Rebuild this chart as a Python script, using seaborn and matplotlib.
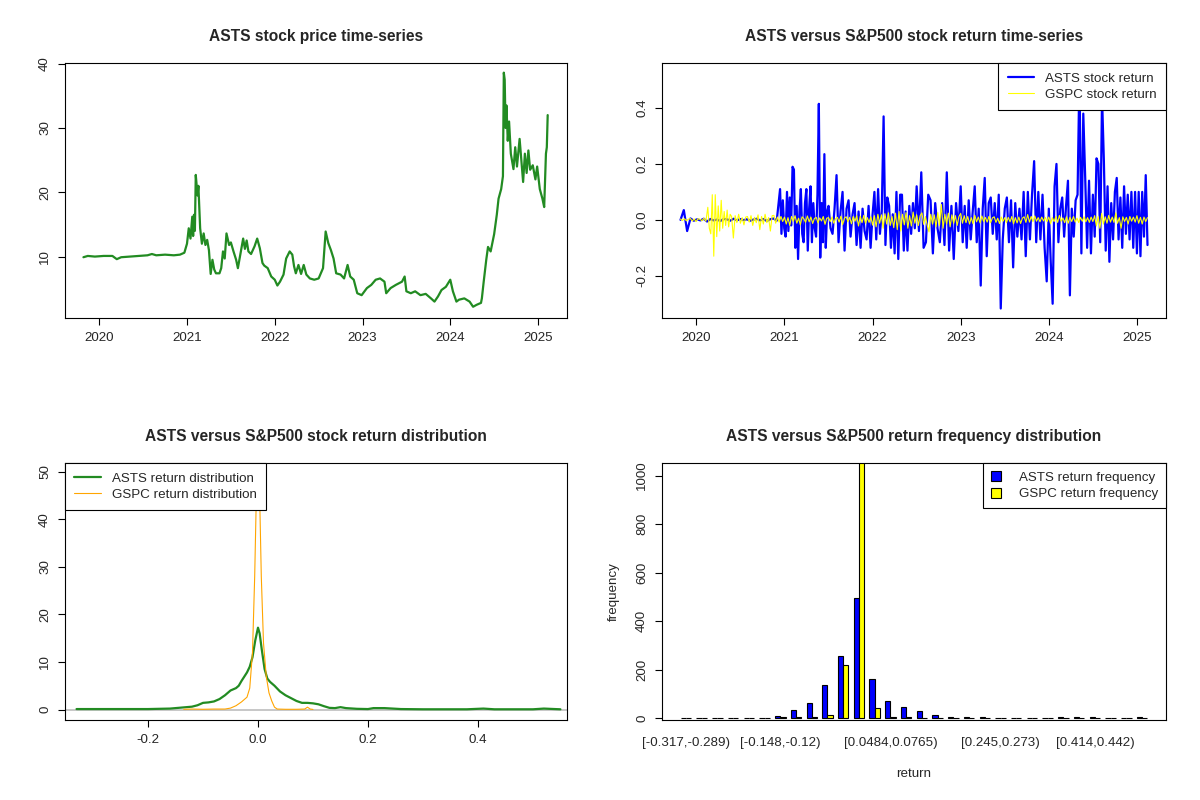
import numpy as np
import pandas as pd
import matplotlib
matplotlib.use("Agg")
import matplotlib.pyplot as plt
import seaborn as sns

# ASTS closing price (decimal years)
price_years = [2019.82, 2019.87, 2019.95, 2020.05, 2020.15, 2020.2, 2020.25, 2020.35, 2020.45, 2020.55,
               2020.6, 2020.65, 2020.75, 2020.85, 2020.92, 2020.97, 2021.0, 2021.02, 2021.04, 2021.06,
               2021.07, 2021.08, 2021.09, 2021.1, 2021.12, 2021.13, 2021.15, 2021.17, 2021.19, 2021.21,
               2021.23, 2021.25, 2021.27, 2021.29, 2021.31, 2021.33, 2021.37, 2021.39, 2021.41, 2021.43,
               2021.45, 2021.48, 2021.5, 2021.53, 2021.56, 2021.58, 2021.61, 2021.64, 2021.66, 2021.68,
               2021.7, 2021.73, 2021.77, 2021.8, 2021.83, 2021.86, 2021.88, 2021.92, 2021.96, 2022.0,
               2022.03, 2022.06, 2022.1, 2022.13, 2022.17, 2022.2, 2022.22, 2022.24, 2022.27, 2022.3,
               2022.33, 2022.36, 2022.4, 2022.45, 2022.5, 2022.55, 2022.58, 2022.61, 2022.64, 2022.67,
               2022.7, 2022.75, 2022.79, 2022.83, 2022.86, 2022.9, 2022.94, 2022.99, 2023.05, 2023.1,
               2023.15, 2023.2, 2023.25, 2023.27, 2023.32, 2023.38, 2023.45, 2023.48, 2023.5, 2023.55,
               2023.6, 2023.66, 2023.72, 2023.78, 2023.82, 2023.86, 2023.9, 2023.95, 2024.0, 2024.03,
               2024.07, 2024.1, 2024.16, 2024.22, 2024.26, 2024.3, 2024.35, 2024.36, 2024.38, 2024.41,
               2024.43, 2024.46, 2024.5, 2024.53, 2024.55, 2024.58, 2024.6, 2024.61, 2024.62, 2024.63,
               2024.64, 2024.655, 2024.67, 2024.69, 2024.72, 2024.74, 2024.76, 2024.79, 2024.81, 2024.83,
               2024.85, 2024.87, 2024.89, 2024.91, 2024.94, 2024.97, 2024.99, 2025.02, 2025.05, 2025.07,
               2025.08, 2025.09, 2025.1, 2025.11]
price_values = [9.9, 10.1, 10.0, 10.1, 10.1, 9.6, 9.9, 10.0, 10.1, 10.2,
                10.4, 10.2, 10.3, 10.2, 10.3, 10.6, 12.0, 14.4, 12.8, 16.2,
                13.2, 16.5, 14.0, 22.7, 19.5, 21.0, 14.4, 12.0, 13.6, 11.8,
                12.6, 11.0, 7.3, 9.5, 8.0, 7.4, 7.4, 8.2, 10.8, 9.7,
                13.6, 11.8, 12.2, 10.8, 9.5, 8.2, 10.5, 12.8, 11.2, 12.5,
                10.8, 10.4, 11.6, 12.8, 11.3, 9.0, 8.6, 8.2, 6.9, 6.4,
                5.5, 6.1, 7.2, 9.7, 10.8, 10.3, 8.5, 7.4, 8.7, 7.3,
                8.7, 7.2, 6.6, 6.4, 6.6, 8.2, 13.9, 12.1, 11.0, 9.7,
                7.4, 7.2, 6.6, 8.7, 6.9, 6.4, 4.3, 4.0, 5.1, 5.6,
                6.4, 6.6, 6.1, 4.3, 5.1, 5.6, 6.1, 6.9, 4.6, 4.3,
                4.6, 4.0, 4.2, 3.5, 3.0, 3.8, 4.8, 5.3, 6.4, 4.6,
                3.0, 3.3, 3.5, 3.0, 2.2, 2.5, 2.8, 3.5, 6.0, 9.5,
                11.5, 10.8, 13.5, 16.5, 19.0, 20.5, 22.5, 38.6, 37.5, 30.0,
                33.5, 28.0, 31.0, 26.0, 23.6, 27.0, 24.0, 28.3, 25.0, 21.6,
                26.0, 23.0, 26.5, 23.5, 24.2, 22.0, 24.0, 20.5, 19.0, 17.7,
                22.0, 26.0, 27.0, 32.0]

# ASTS daily returns, by period
asts_ret_edges = [2019.82, 2020.95, 2021.5, 2022.0, 2022.5, 2023.0, 2023.5, 2024.0, 2024.5, 2025.0, 2025.12]
asts_ret_2020 = [0.0, 0.035, -0.04, 0.005, -0.003, 0.002, -0.002, 0.004, -0.006, 0.003,
                 -0.002, 0.001, -0.004, 0.003, 0.002, -0.003, 0.004, -0.002, 0.003, -0.001,
                 0.002, -0.003, 0.001, 0.004, -0.002, 0.003, -0.004, 0.002, 0.005, -0.003]
asts_ret_2021a = [0.11, -0.05, 0.07, -0.03, -0.06, 0.1, -0.04, 0.08, -0.02, 0.19, 0.18, -0.1,
                  0.05, -0.14, 0.03, 0.11, -0.05, -0.08, 0.06, 0.11, -0.11, 0.04, 0.12, -0.08,
                  0.06, -0.03, -0.06, 0.09, 0.415, -0.135, 0.06, -0.08, 0.235, -0.1, 0.03]
asts_ret_2021b = [0.05, -0.03, -0.05, 0.04, 0.16, -0.08, 0.03, 0.1, -0.11, 0.04, 0.07,
                  -0.06, 0.02, 0.06, -0.09, 0.03, -0.1, 0.04, -0.04, -0.07, 0.05, -0.1]
asts_ret_2022a = [0.02, 0.1, -0.07, 0.11, -0.05, 0.03, 0.37, -0.09, 0.08, 0.05, -0.1, 0.02,
                  -0.12, 0.1, -0.14, 0.09, 0.09, -0.11, 0.03, -0.11, 0.05, -0.05, 0.06, -0.03]
asts_ret_2022b = [0.12, -0.04, 0.17, -0.1, -0.08, 0.09, 0.07, -0.12, 0.06, -0.03,
                  -0.08, 0.06, -0.09, 0.17, -0.11, 0.05, -0.14, 0.06, -0.04]
asts_ret_2023a = [0.12, -0.08, 0.05, -0.1, 0.07, -0.07, 0.03, 0.12, -0.08, 0.04, -0.235,
                  0.04, 0.15, -0.13, 0.06, 0.08, -0.05, 0.06, -0.07, 0.09, -0.317, -0.07]
asts_ret_2023b = [0.04, 0.08, -0.08, 0.07, -0.17, 0.06, -0.06, 0.04, -0.07, 0.1, -0.13,
                  0.1, -0.07, 0.09, 0.21, -0.08, 0.1, -0.07, 0.09, -0.1, -0.22]
asts_ret_2024a = [0.04, -0.15, -0.3, 0.12, 0.2, -0.08, 0.04, 0.08, -0.06, 0.05, 0.14, -0.27,
                  0.04, -0.06, 0.07, 0.09, 0.527, -0.12, 0.38, 0.15, -0.1, 0.14, -0.12]
asts_ret_2024b = [0.09, -0.06, 0.22, 0.2, -0.08, 0.44, 0.21, -0.11, 0.12, -0.15, 0.06, -0.07,
                  0.1, 0.15, -0.07, 0.08, -0.1, 0.12, -0.05, 0.09, -0.07, 0.1, -0.1, 0.1]
asts_ret_2025 = [-0.12, 0.1, -0.13, 0.1, -0.06, 0.16, -0.09]

# S&P500 (GSPC) daily returns, by period
gspc_ret_edges = [2019.82, 2020.13, 2020.4, 2021.0, 2022.0, 2023.0, 2024.0, 2025.0, 2025.12]
gspc_ret_2019 = [0.003, -0.002, 0.004, -0.003, 0.002, 0.005, -0.004, 0.003, -0.006, 0.004,
                 0.002, -0.003, 0.006, -0.005]
gspc_ret_covid = [0.045, -0.03, -0.05, 0.09, -0.13, 0.09, -0.06, 0.05, -0.04, 0.07, -0.03,
                  0.03, -0.02, 0.035, -0.025, 0.02]
gspc_ret_2020 = [0.012, -0.065, 0.015, -0.01, 0.02, -0.012, 0.008, -0.018, 0.01, 0.012,
                 -0.008, 0.015, -0.02, 0.009, -0.01, 0.018, -0.035, 0.012, -0.015, 0.02,
                 -0.01, 0.008, -0.04, 0.015, 0.016, -0.012, 0.01, -0.008, 0.012, -0.006]
gspc_ret_2021 = [0.01, -0.015, 0.008, -0.02, 0.012, -0.005, 0.015, -0.012, 0.006, -0.018,
                 0.011, 0.004, -0.009, 0.014, -0.007, 0.01, -0.013, 0.005, 0.009, -0.011,
                 0.007, -0.004, 0.012, -0.016, 0.006, 0.008, -0.006, 0.01, -0.012, 0.004,
                 0.009, -0.008, 0.013, -0.017, 0.006, 0.011, -0.007, 0.009, -0.014, 0.012,
                 -0.005, 0.015, -0.022, 0.013, -0.01, 0.016, -0.012, 0.008, -0.009, 0.011]
gspc_ret_2022 = [-0.019, 0.015, -0.025, 0.02, -0.012, 0.018, -0.03, 0.022, -0.015, 0.025,
                 -0.02, 0.012, -0.028, 0.024, -0.035, 0.03, -0.04, 0.02, -0.018, 0.026,
                 -0.03, 0.015, -0.022, 0.028, -0.012, 0.018, -0.02, 0.015, 0.025, -0.016,
                 0.012, -0.02, -0.043, 0.02, -0.015, 0.018, -0.025, 0.026, -0.02, 0.055,
                 -0.03, 0.02, -0.015, 0.024, -0.025, 0.018, -0.012, 0.015, -0.02, 0.012]
gspc_ret_2023 = [0.023, -0.012, 0.015, -0.01, 0.012, -0.015, 0.008, -0.014, 0.016, -0.007,
                 0.01, -0.011, 0.014, -0.006, 0.009, -0.008, 0.012, -0.01, 0.007, 0.011,
                 -0.009, 0.006, -0.013, 0.01, -0.005, 0.008, -0.01, 0.009, -0.007, 0.012,
                 -0.014, 0.008, -0.011, 0.01, -0.013, 0.006, 0.011, -0.009, 0.019, -0.008,
                 0.012, -0.006, 0.014, -0.005, 0.008, -0.007, 0.01, -0.004, 0.009, -0.006]
gspc_ret_2024 = [0.01, -0.014, 0.008, -0.006, 0.012, -0.009, 0.016, -0.005, 0.007, -0.01,
                 0.011, -0.012, 0.009, -0.006, 0.012, -0.008, 0.006, -0.01, 0.009, -0.005,
                 0.011, -0.007, 0.008, -0.009, 0.01, -0.006, 0.015, -0.022, 0.012, -0.03,
                 0.023, -0.015, 0.011, -0.012, 0.016, -0.008, 0.01, -0.009, 0.025, -0.012,
                 0.008, -0.03, 0.011, -0.006, 0.009, -0.015, 0.012, -0.005, 0.01, -0.008]
gspc_ret_2025 = [0.015, -0.012, 0.009, -0.015, 0.01, -0.006, 0.008]

# kernel density of returns
asts_dens_x = [-0.33, -0.25, -0.2, -0.16, -0.14, -0.12, -0.11, -0.1, -0.09, -0.08,
               -0.07, -0.06, -0.05, -0.04, -0.035, -0.03, -0.02, -0.015, -0.01, -0.005,
               0.0, 0.003, 0.007, 0.012, 0.017, 0.022, 0.03, 0.04, 0.05, 0.06,
               0.07, 0.08, 0.09, 0.1, 0.11, 0.12, 0.13, 0.14, 0.15, 0.16,
               0.18, 0.2, 0.21, 0.23, 0.26, 0.3, 0.38, 0.41, 0.43, 0.5,
               0.52, 0.54, 0.55]
asts_dens_y = [0.1, 0.1, 0.1, 0.2, 0.4, 0.6, 0.9, 1.4, 1.5, 1.7,
               2.2, 3.0, 4.0, 4.5, 5.0, 6.0, 7.8, 9.0, 11.0, 14.5,
               17.2, 16.0, 12.5, 8.5, 6.5, 5.8, 5.0, 3.8, 3.0, 2.4,
               1.8, 1.4, 1.4, 1.3, 1.1, 0.7, 0.35, 0.3, 0.5, 0.3,
               0.15, 0.1, 0.3, 0.3, 0.1, 0.05, 0.05, 0.2, 0.05, 0.05,
               0.2, 0.1, 0.05]
gspc_dens_x = [-0.135, -0.12, -0.1, -0.08, -0.06, -0.05, -0.04, -0.03, -0.02, -0.015,
               -0.01, -0.006, -0.003, 0.0, 0.003, 0.006, 0.01, 0.015, 0.02, 0.025,
               0.03, 0.035, 0.05, 0.07, 0.085, 0.09, 0.095, 0.1]
gspc_dens_y = [0.05, 0.1, 0.05, 0.1, 0.1, 0.3, 0.8, 1.6, 2.6, 4.5,
               12, 28, 45, 56, 45, 28, 14, 7, 3.5, 1.8,
               0.5, 0.1, 0.05, 0.05, 0.1, 0.5, 0.1, 0.02]

# return frequency, 30 bins from -0.317 to 0.527
asts_freq = [2, 2, 2, 2, 1, 2, 9, 34, 63, 138, 256, 494, 163, 72, 47,
             31, 14, 3, 3, 3, 1, 1, 1, 1, 3, 3, 3, 1, 1, 3]
gspc_freq = [0, 0, 0, 0, 0, 0, 3, 3, 3, 14, 217, 1060, 42, 3, 3,
             1, 0, 0, 0, 0, 0, 0, 0, 0, 0, 0, 0, 0, 0, 0]
bin_label_pos = [0, 6, 13, 20, 26]
bin_labels = ["[-0.317,-0.289)", "[-0.148,-0.12)", "[0.0484,0.0765)", "[0.245,0.273)", "[0.414,0.442)"]


def segments_to_frame(edges, segs):
    xs, ys = [], []
    for i, seg in enumerate(segs):
        last = i == len(segs) - 1
        xs.append(np.linspace(edges[i], edges[i + 1], len(seg), endpoint=last))
        ys.append(np.array(seg))
    return pd.DataFrame({"year": np.concatenate(xs), "ret": np.concatenate(ys)})


asts_ret = segments_to_frame(asts_ret_edges, [asts_ret_2020, asts_ret_2021a, asts_ret_2021b,
                                              asts_ret_2022a, asts_ret_2022b, asts_ret_2023a,
                                              asts_ret_2023b, asts_ret_2024a, asts_ret_2024b,
                                              asts_ret_2025])
gspc_ret = segments_to_frame(gspc_ret_edges, [gspc_ret_2019, gspc_ret_covid, gspc_ret_2020,
                                              gspc_ret_2021, gspc_ret_2022, gspc_ret_2023,
                                              gspc_ret_2024, gspc_ret_2025])
price = pd.DataFrame({"year": price_years, "price": price_values})

sns.set_style("white")
plt.rcParams['font.family'] = ['Liberation Sans', 'DejaVu Sans']

TICK = 9.6
TITLE = 11.2
fig = plt.figure(figsize=(12, 8), dpi=100)

L1, R1 = 65 / 1200, 567 / 1200
L2, R2 = 662 / 1200, 1166 / 1200
top_b, top_t = 1 - 318 / 800, 1 - 63 / 800
bot_b, bot_t = 1 - 720 / 800, 1 - 463 / 800
ax1 = fig.add_axes([L1, top_b, R1 - L1, top_t - top_b])
ax2 = fig.add_axes([L2, top_b, R2 - L2, top_t - top_b])
ax3 = fig.add_axes([L1, bot_b, R1 - L1, bot_t - bot_b])
ax4 = fig.add_axes([L2, bot_b, R2 - L2, bot_t - bot_b])


def r_style(ax, xticks=True):
    for s in ax.spines.values():
        s.set_visible(True)
        s.set_color("black")
        s.set_linewidth(0.8)
    ax.tick_params(axis="both", direction="out", length=5, width=0.8, color="black",
                   labelsize=TICK, pad=5, left=True, bottom=xticks)
    ax.tick_params(axis="y", labelrotation=90)
    for lbl in ax.get_yticklabels():
        lbl.set_va("center")
    ax.set_xlabel("")
    ax.set_ylabel("")


def r_legend(ax, loc, **kw):
    opts = dict(handlelength=2.0, handletextpad=0.8, borderpad=0.7, labelspacing=0.3)
    opts.update(kw)
    leg = ax.legend(loc=loc, fontsize=TICK, frameon=True, fancybox=False, framealpha=1,
                    edgecolor="black", borderaxespad=0, **opts)
    leg.get_frame().set_linewidth(0.8)
    return leg


year_ticks = [2020, 2021, 2022, 2023, 2024, 2025]

# panel 1: price
sns.lineplot(data=price, x="year", y="price", ax=ax1, color="forestgreen", lw=1.6,
             estimator=None, sort=False)
ax1.set_xlim(2019.61, 2025.33)
ax1.set_ylim(0.45, 40.1)
ax1.set_xticks(year_ticks)
ax1.set_yticks([10, 20, 30, 40])
ax1.set_title("ASTS stock price time-series", fontsize=TITLE, fontweight="bold", pad=16)
r_style(ax1)

# panel 2: returns
sns.lineplot(data=asts_ret, x="year", y="ret", ax=ax2, color="blue", lw=1.6,
             estimator=None, sort=False, label="ASTS stock return")
sns.lineplot(data=gspc_ret, x="year", y="ret", ax=ax2, color="yellow", lw=0.8,
             estimator=None, sort=False, label="GSPC stock return")
ax2.set_xlim(2019.61, 2025.33)
ax2.set_ylim(-0.351, 0.561)
ax2.set_xticks(year_ticks)
ax2.set_yticks([-0.2, 0.0, 0.2, 0.4])
ax2.set_yticklabels(["-0.2", "0.0", "0.2", "0.4"])
ax2.set_title("ASTS versus S&P500 stock return time-series", fontsize=TITLE, fontweight="bold", pad=16)
r_style(ax2)
r_legend(ax2, "upper right")

# panel 3: densities
ax3.axhline(0, color="#bebebe", lw=1.2, zorder=1)
sns.lineplot(x=asts_dens_x, y=asts_dens_y, ax=ax3, color="forestgreen", lw=1.6,
             estimator=None, sort=False, label="ASTS return distribution")
sns.lineplot(x=gspc_dens_x, y=gspc_dens_y, ax=ax3, color="orange", lw=0.8,
             estimator=None, sort=False, label="GSPC return distribution")
ax3.set_xlim(-0.351, 0.562)
ax3.set_ylim(-2.2, 51.8)
ax3.set_xticks([-0.2, 0.0, 0.2, 0.4])
ax3.set_xticklabels(["-0.2", "0.0", "0.2", "0.4"])
ax3.set_yticks([0, 10, 20, 30, 40, 50])
ax3.set_title("ASTS versus S&P500 stock return distribution", fontsize=TITLE, fontweight="bold", pad=16)
r_style(ax3)
r_legend(ax3, "upper left")

# panel 4: frequency histogram
nb = len(asts_freq)
freq = pd.DataFrame({
    "bin": list(range(nb)) * 2,
    "count": asts_freq + gspc_freq,
    "series": ["ASTS return frequency"] * nb + ["GSPC return frequency"] * nb,
})
sns.barplot(data=freq, x="bin", y="count", hue="series", ax=ax4,
            palette={"ASTS return frequency": "blue", "GSPC return frequency": "yellow"},
            width=2 / 3, gap=0, edgecolor="black", linewidth=0.8, saturation=1)
ax4.set_xlim(-1.52, 30.52)
ax4.set_ylim(-8, 1052)
ax4.set_xticks(bin_label_pos)
ax4.set_xticklabels(bin_labels)
ax4.set_yticks([0, 200, 400, 600, 800, 1000])
ax4.set_title("ASTS versus S&P500 return frequency distribution", fontsize=TITLE, fontweight="bold", pad=16)
r_style(ax4, xticks=False)
ax4.tick_params(axis="x", length=0, pad=12)
ax4.set_xlabel("return", fontsize=TICK, labelpad=14)
ax4.set_ylabel("frequency", fontsize=TICK, labelpad=12)
leg = r_legend(ax4, "upper right", handlelength=0.8, handleheight=0.8, handletextpad=1.3,
               borderpad=0.6)
leg.set_title(None)
for h in leg.legend_handles:
    h.set_edgecolor("black")
    h.set_linewidth(0.8)

fig.savefig("out.png", dpi=100)
